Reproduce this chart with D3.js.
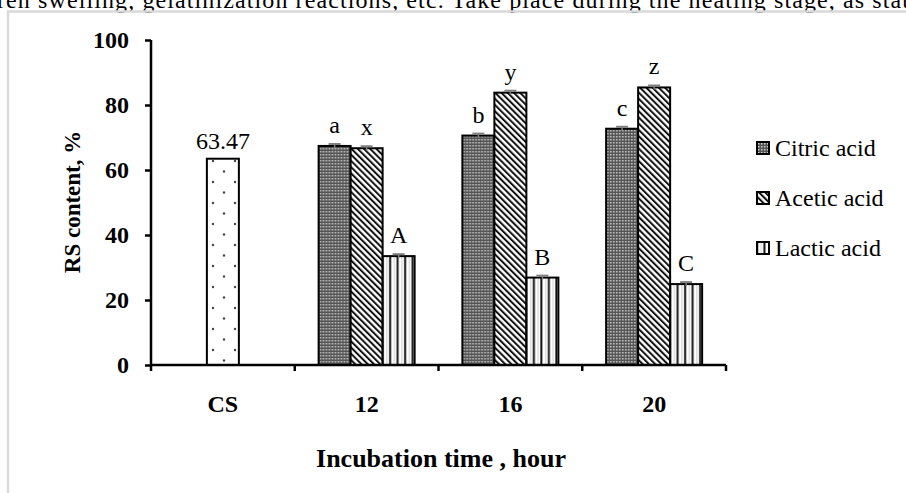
<html>
<head>
<script src="https://d3js.org/d3.v7.min.js"></script>
<style>
body { margin: 0; background: #fff; }
text { font-family: "Liberation Serif", "Times New Roman", serif; }
</style>
</head>
<body>
<div id="canvas"></div>
<script>

// data
var categories = ["CS", "12", "16", "20"];
var seriesNames = ["Citric acid", "Acetic acid", "Lactic acid"];
var csValue = 63.47;
var citric = [67.4, 70.6, 72.7];
var acetic = [66.7, 83.8, 85.4];
var lactic = [33.5, 26.9, 24.9];
var errors = [0.6, 0.6, 0.6];
var letters = [["a", "b", "c"], ["x", "y", "z"], ["A", "B", "C"]];
var yTicks = [0, 20, 40, 60, 80, 100];
var series = [citric, acetic, lactic];

var W = 906, H = 493;
var svg = d3.select("#canvas").append("svg")
            .attr("width", W).attr("height", H);

// patterns
var defs = svg.append("defs");

var pDots = defs.append("pattern").attr("id", "pCS")
    .attr("patternUnits", "userSpaceOnUse")
    .attr("width", 22).attr("height", 21)
    .attr("x", 213).attr("y", 161);
pDots.append("rect").attr("width", 22).attr("height", 21).attr("fill", "#fff");
[[0, 0], [22, 0], [0, 21], [22, 21], [11, 10.5]].forEach(function(p) {
   pDots.append("circle").attr("cx", p[0]).attr("cy", p[1]).attr("r", 1.2).attr("fill", "#444");
});

var pChk = defs.append("pattern").attr("id", "pS0")
    .attr("patternUnits", "userSpaceOnUse")
    .attr("width", 3).attr("height", 3);
pChk.append("rect").attr("width", 3).attr("height", 3).attr("fill", "#555");
pChk.append("rect").attr("x", 1).attr("y", 1).attr("width", 1.5).attr("height", 1.5).attr("fill", "#c8c8c8");

var pDiag = defs.append("pattern").attr("id", "pS1")
    .attr("patternUnits", "userSpaceOnUse")
    .attr("width", 4.4).attr("height", 4.4)
    .attr("patternTransform", "rotate(-45)");
pDiag.append("rect").attr("width", 4.4).attr("height", 4.4).attr("fill", "#fff");
pDiag.append("rect").attr("width", 2).attr("height", 4.4).attr("fill", "#111");

var pVert = defs.append("pattern").attr("id", "pS2")
    .attr("patternUnits", "userSpaceOnUse")
    .attr("width", 7.5).attr("height", 10).attr("x", 385);
pVert.append("rect").attr("width", 7.5).attr("height", 10).attr("fill", "#fff");
pVert.append("rect").attr("x", 4).attr("width", 2).attr("height", 10).attr("fill", "#111");
pVert.append("rect").attr("x", 1).attr("width", 1.5).attr("height", 10).attr("fill", "#ddd");

// page text and frame
svg.append("text")
   .attr("x", -3).attr("y", 8)
   .style("font-size", "24px")
   .attr("textLength", 912)
   .text("ren swelling, gelatinization reactions, etc. Take place during the heating stage, as stat");

svg.append("path")
   .attr("d", "M8,493 V11.5 H906")
   .attr("fill", "none")
   .attr("stroke", "#d9d9d9")
   .attr("stroke-width", 2.5);

// scales
var x = d3.scaleBand().domain(categories).range([151, 726]).padding(0);
var y = d3.scaleLinear().domain([0, 100]).range([365, 40]);
var barW = 32;
var inner = d3.scaleBand().domain([0, 1, 2]).range([-barW * 1.5, barW * 1.5]);

var g = svg.append("g");

// CS bar
var csX = x("CS") + x.bandwidth() / 2;
g.append("rect")
 .attr("x", csX - barW / 2).attr("y", y(csValue))
 .attr("width", barW).attr("height", y(0) - y(csValue))
 .attr("fill", "url(#pCS)")
 .attr("stroke", "#000").attr("stroke-width", 2);
g.append("text")
 .attr("x", csX).attr("y", y(csValue) - 10)
 .attr("text-anchor", "middle")
 .style("font-size", "24px")
 .text(csValue.toFixed(2));

// grouped bars
var hours = categories.slice(1);
series.forEach(function(vals, s) {
   var bars = g.append("g").selectAll("g")
      .data(vals)
      .enter()
      .append("g")
      .attr("transform", function(d, i) {
         return "translate(" + (x(hours[i]) + x.bandwidth() / 2 + inner(s)) + ",0)";
      });
   bars.append("rect")
      .attr("x", 0).attr("y", function(d) { return y(d); })
      .attr("width", barW)
      .attr("height", function(d) { return y(0) - y(d); })
      .attr("fill", "url(#pS" + s + ")")
      .attr("stroke", "#000").attr("stroke-width", 2);
   // error caps
   bars.append("line")
      .attr("x1", barW / 2).attr("x2", barW / 2)
      .attr("y1", function(d) { return y(d - errors[s]); })
      .attr("y2", function(d) { return y(d + errors[s]); })
      .attr("stroke", "#7f7f7f").attr("stroke-width", 1.5);
   bars.append("line")
      .attr("x1", barW / 2 - 6).attr("x2", barW / 2 + 6)
      .attr("y1", function(d) { return y(d + errors[s]); })
      .attr("y2", function(d) { return y(d + errors[s]); })
      .attr("stroke", "#7f7f7f").attr("stroke-width", 2);
   bars.append("text")
      .attr("x", barW / 2)
      .attr("y", function(d) { return y(d) - 13; })
      .attr("text-anchor", "middle")
      .style("font-size", "24px")
      .text(function(d, i) { return letters[s][i]; });
});

// axes
var yAxis = svg.append("g")
   .attr("transform", "translate(151,0)")
   .call(d3.axisLeft(y).tickValues(yTicks).tickSize(6).tickPadding(16).tickFormat(d3.format("d")));
yAxis.select(".domain").attr("stroke-width", 2.5).attr("d", "M0," + y(100) + "V" + y(0));
yAxis.selectAll(".tick line").attr("stroke-width", 2.5);
yAxis.selectAll(".tick text")
   .style("font-family", "Liberation Serif")
   .style("font-size", "24px").style("font-weight", "bold");

var xAxis = svg.append("g")
   .attr("transform", "translate(0," + y(0) + ")");
xAxis.append("line")
   .attr("x1", 151).attr("x2", 726)
   .attr("stroke", "#000").attr("stroke-width", 2.5);
xAxis.selectAll(".xt")
   .data(categories.concat(["end"]))
   .enter()
   .append("line")
   .attr("x1", function(d, i) { return 151 + i * x.step(); })
   .attr("x2", function(d, i) { return 151 + i * x.step(); })
   .attr("y1", 0).attr("y2", 6)
   .attr("stroke", "#000").attr("stroke-width", 2.5);
xAxis.selectAll(".xl")
   .data(categories)
   .enter()
   .append("text")
   .attr("x", function(d) { return x(d) + x.bandwidth() / 2; })
   .attr("y", 47)
   .attr("text-anchor", "middle")
   .style("font-size", "24px").style("font-weight", "bold")
   .text(function(d) { return d; });

// axis titles
svg.append("text")
   .attr("x", 441).attr("y", 467)
   .attr("text-anchor", "middle")
   .style("font-size", "26px").style("font-weight", "bold")
   .text("Incubation time , hour");

svg.append("text")
   .attr("transform", "translate(80,202) rotate(-90)")
   .attr("text-anchor", "middle")
   .style("font-size", "23px").style("font-weight", "bold")
   .text("RS content, %");

// legend
var legend = svg.append("g").selectAll("g")
   .data(seriesNames)
   .enter()
   .append("g")
   .attr("transform", function(d, i) { return "translate(757," + (148 + i * 50) + ")"; });
legend.append("rect")
   .attr("x", 0).attr("y", -6).attr("width", 12).attr("height", 12)
   .attr("fill", function(d, i) { return "url(#pS" + i + ")"; })
   .attr("stroke", "#000").attr("stroke-width", 2);
legend.append("text")
   .attr("x", 18).attr("y", 8)
   .style("font-size", "24px")
   .text(function(d) { return d; });

</script>
</body>
</html>
